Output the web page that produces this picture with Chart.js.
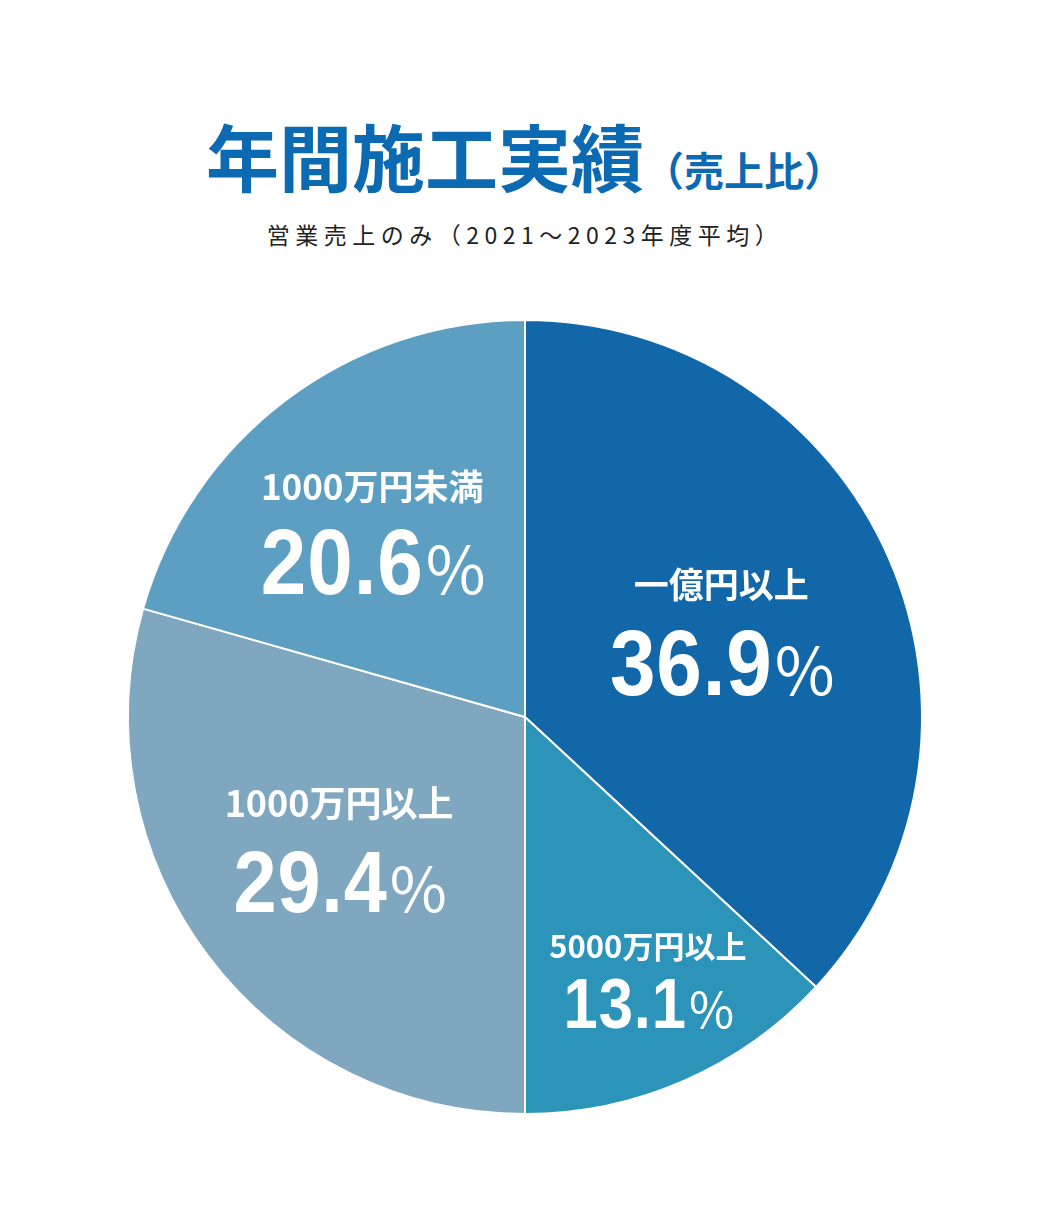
<!DOCTYPE html>
<html lang="ja">
<head>
<meta charset="utf-8">
<script src="https://cdn.jsdelivr.net/npm/chart.js@4.4.1/dist/chart.umd.min.js"></script>
<style>
  html, body { margin: 0; padding: 0; background: #ffffff; }
  body { width: 1050px; height: 1220px; position: relative; overflow: hidden; }
  #title {
    position: absolute; left: 0; top: 118px; width: 1050px; text-align: center;
    color: #0b6ab2; font-family: "Noto Sans CJK JP", "Noto Sans", sans-serif; font-weight: 700;
    white-space: nowrap; line-height: 1;
  }
  #title .big { font-size: 73px; letter-spacing: 0px; }
  #title .small { font-size: 40px; margin-left: 0px; }
  #subtitle {
    position: absolute; left: 0; top: 223px; width: 1050px; text-align: center;
    color: #222222; font-family: "Noto Sans CJK JP", sans-serif; font-weight: 400;
    font-size: 23px; letter-spacing: 5.5px; line-height: 1; white-space: nowrap;
  }
  #wrap { position: absolute; left: 0; top: 319px; width: 1050px; height: 796px; }
</style>
</head>
<body>
<div id="title"><span class="big">年間施工実績</span><span class="small">（売上比）</span></div>
<div id="subtitle">営業売上のみ（2021～2023年度平均）</div>
<div id="wrap"><canvas id="c" width="1050" height="796"></canvas></div>
<script>
// ---- data ----
const categories = ["一億円以上", "5000万円以上", "1000万円以上", "1000万円未満"];
const shares = [36.9, 13.1, 29.4, 20.6];
const sliceColors = ["#1167a8", "#2c94b9", "#7fa8c0", "#5c9fc2"];

// ---- label styling (not data) ----
const labelFrac   = [0.548, 0.719, 0.564, 0.62];
const labelAngleShift = [-2.0, -1.9, 3.2, -1.3]; // degrees
const catSize     = [35, 31, 36, 35];
const pctSize     = [93, 70, 88, 93];
const halfGap     = [38.5, 28.5, 39, 37];
const hScale = 0.88;

const labelPlugin = {
  id: 'sliceLabels',
  afterDatasetsDraw(chart) {
    const ctx = chart.ctx;
    const meta = chart.getDatasetMeta(0);
    meta.data.forEach((arc, i) => {
      const p = arc.getProps(['x', 'y', 'startAngle', 'endAngle', 'outerRadius'], true);
      const mid = (p.startAngle + p.endAngle) / 2 + labelAngleShift[i] * Math.PI / 180;
      const r = p.outerRadius * labelFrac[i];
      const cx = p.x + Math.cos(mid) * r;
      const cy = p.y + Math.sin(mid) * r;
      ctx.save();
      ctx.fillStyle = '#ffffff';
      // category label
      ctx.font = `700 ${catSize[i]}px "Noto Sans CJK JP", sans-serif`;
      ctx.textAlign = 'center';
      ctx.textBaseline = 'middle';
      ctx.fillText(categories[i], cx, cy - halfGap[i]);
      // percent
      const numStr = shares[i].toFixed(1);
      const ls = Math.round(pctSize[i] * 0.015);
      const signSize = Math.round(pctSize[i] * 0.7);
      ctx.letterSpacing = ls + 'px';
      ctx.font = `700 ${pctSize[i]}px "Liberation Sans", Arial, sans-serif`;
      const wNum = (ctx.measureText(numStr).width) * hScale;
      ctx.letterSpacing = '0px';
      ctx.font = `400 ${signSize}px "Noto Sans CJK JP", sans-serif`;
      const wSign = ctx.measureText('%').width;
      const total = wNum + wSign;
      const baseY = cy + halfGap[i] + pctSize[i] * 0.358;
      const x0 = cx - total / 2;
      ctx.textAlign = 'left';
      ctx.textBaseline = 'alphabetic';
      ctx.save();
      ctx.translate(x0, baseY);
      ctx.scale(hScale, 1);
      ctx.letterSpacing = ls + 'px';
      ctx.font = `700 ${pctSize[i]}px "Liberation Sans", Arial, sans-serif`;
      ctx.fillText(numStr, 0, 0);
      ctx.restore();
      ctx.letterSpacing = '0px';
      ctx.font = `400 ${signSize}px "Noto Sans CJK JP", sans-serif`;
      ctx.fillText('%', x0 + wNum + 2, baseY);
      ctx.restore();
    });
  }
};

new Chart(document.getElementById('c'), {
  type: 'pie',
  data: {
    labels: categories,
    datasets: [{
      data: shares,
      backgroundColor: sliceColors,
      borderColor: '#ffffff',
      borderWidth: 2,
      hoverOffset: 0
    }]
  },
  options: {
    responsive: false,
    animation: false,
    layout: { padding: 0 },
    plugins: { legend: { display: false }, tooltip: { enabled: false } }
  },
  plugins: [labelPlugin]
});
</script>
</body>
</html>
